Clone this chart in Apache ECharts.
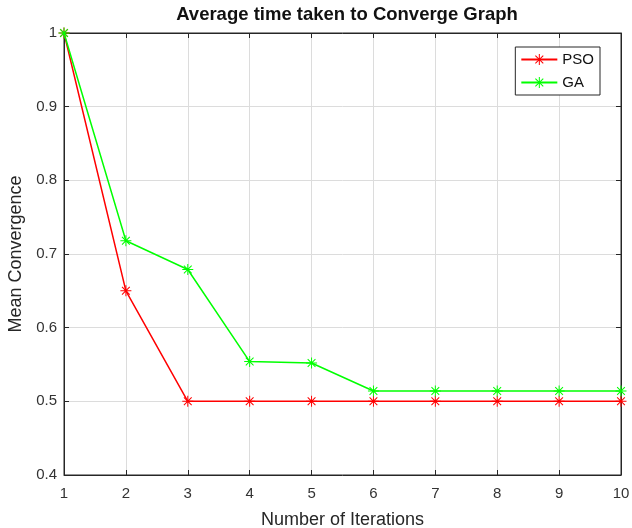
<!DOCTYPE html>
<html><head><meta charset="utf-8">
<script src="https://cdn.jsdelivr.net/npm/echarts@6/dist/echarts.min.js"></script>
<style>html,body{margin:0;padding:0;background:#fff}#c{width:632px;height:528px}</style>
</head><body><div id="c"></div>
<script>
var iterations = [1,2,3,4,5,6,7,8,9,10];
var psoValues = [1.0, 0.65, 0.5, 0.5, 0.5, 0.5, 0.5, 0.5, 0.5, 0.5];
var gaValues = [1.0, 0.718, 0.679, 0.554, 0.552, 0.514, 0.514, 0.514, 0.514, 0.514];
var yTicks = [0.4,0.5,0.6,0.7,0.8,0.9,1];

var star = 'path://M-1,-0.09L1,-0.09L1,0.09L-1,0.09Z M-0.09,-1L0.09,-1L0.09,1L-0.09,1Z M-0.77,-0.64L-0.64,-0.77L0.77,0.64L0.64,0.77Z M0.64,-0.77L0.77,-0.64L-0.64,0.77L-0.77,0.64Z';
var font = 'Liberation Sans, Arial, Helvetica, sans-serif';
var chart = echarts.init(document.getElementById('c'), null, {renderer:'canvas'});
function pair(xs, ys){ return xs.map(function(x,i){return [x, ys[i]];}); }
chart.setOption({
  animation:false,
  backgroundColor:'#fff',
  title:{text:'Average time taken to Converge Graph', left:342, top:0, textAlign:'center',
    textStyle:{fontFamily:font, fontSize:18.5, fontWeight:'bold', color:'#111'}},
  grid:{left:64, right:11, top:33, bottom:53, show:true, borderColor:'#262626', borderWidth:1, outerBoundsMode:'none', containLabel:false},
  legend:{right:32, top:47, orient:'vertical', itemWidth:36, itemHeight:14, itemGap:8,
    borderColor:'#262626', borderWidth:1, padding:[5,6,5,5], backgroundColor:'#fff',
    textStyle:{fontFamily:font, fontSize:15, color:'#111'},
    data:['PSO','GA']},
  xAxis:[{type:'value', min:1, max:10, interval:1, name:'Number of Iterations', nameLocation:'middle', nameGap:36,
    nameTextStyle:{fontFamily:font, fontSize:18, color:'#262626'},
    axisLine:{lineStyle:{color:'#262626'}}, axisTick:{inside:true, length:5, lineStyle:{color:'#262626'}},
    axisLabel:{fontFamily:font, fontSize:15, color:'#333', margin:11},
    splitLine:{show:true, lineStyle:{color:'#dcdcdc', width:1}}},
    {type:'value', position:'top', min:1, max:10, interval:1, axisLine:{lineStyle:{color:'#262626'}},
    axisTick:{inside:true, length:5, lineStyle:{color:'#262626'}}, axisLabel:{show:false}, splitLine:{show:false}}],
  yAxis:[{type:'value', min:0.4, max:1, interval:0.1, name:'Mean Convergence', nameLocation:'middle', nameGap:39,
    nameTextStyle:{fontFamily:font, fontSize:18, color:'#262626'},
    axisLine:{show:true, lineStyle:{color:'#262626'}}, axisTick:{show:true, inside:true, length:5, lineStyle:{color:'#262626'}},
    axisLabel:{fontFamily:font, fontSize:15, color:'#333', margin:7, formatter:function(v){return String(Math.round(v*10)/10);}},
    splitLine:{show:true, lineStyle:{color:'#dcdcdc', width:1}}},
    {type:'value', position:'right', min:0.4, max:1, interval:0.1, axisLine:{show:true, lineStyle:{color:'#262626'}},
    axisTick:{show:true, inside:true, length:5, lineStyle:{color:'#262626'}}, axisLabel:{show:false}, splitLine:{show:false}}],
  series:[
    {name:'PSO', type:'line', data:pair(iterations, psoValues), symbol:star, symbolSize:11, showAllSymbol:true,
      lineStyle:{color:'#ff0000', width:1.5}, itemStyle:{color:'#ff0000'}, z:2},
    {name:'GA', type:'line', data:pair(iterations, gaValues), symbol:star, symbolSize:11, showAllSymbol:true,
      lineStyle:{color:'#00ff00', width:1.5}, itemStyle:{color:'#00ff00'}, z:3}
  ]
});
</script></body></html>
